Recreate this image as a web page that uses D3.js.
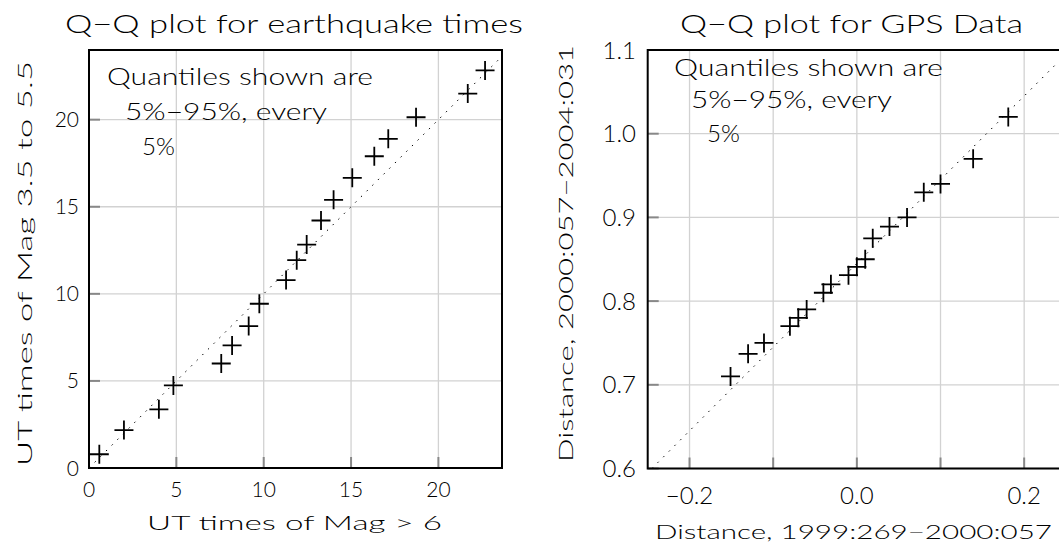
<!DOCTYPE html>
<html>
<head>
<meta charset="utf-8">
<script src="https://cdn.jsdelivr.net/npm/d3@7"></script>
<style>
  body { margin: 0; background: #fff; }
  svg { display: block; }
  text { font-family: Lato, "DejaVu Sans", sans-serif; font-weight: 300; fill: #000; }
</style>
</head>
<body>
<svg id="chart" width="1059" height="543"></svg>
<script>
// left panel: earthquake times (quantiles 5%..95%)
const quakeX = [0.59, 2.0, 4.0, 4.83, 7.57, 8.19, 9.14, 9.75, 11.28, 11.89, 12.46, 13.28, 14.0, 15.07, 16.33, 17.13, 18.72, 21.68, 22.67]
const quakeY = [0.79, 2.18, 3.37, 4.74, 6.0, 7.04, 8.15, 9.43, 10.79, 11.93, 12.83, 14.21, 15.4, 16.66, 17.9, 18.9, 20.14, 21.5, 22.83]
const quakeTicks = [0, 5, 10, 15, 20]

// right panel: GPS distances
const gpsX = [-0.151, -0.130, -0.111, -0.080, -0.070, -0.060, -0.040, -0.031, -0.010, 0.0, 0.010, 0.019, 0.039, 0.060, 0.080, 0.100, 0.139, 0.181]
const gpsY = [0.710, 0.737, 0.750, 0.770, 0.780, 0.790, 0.810, 0.820, 0.831, 0.841, 0.850, 0.875, 0.889, 0.900, 0.930, 0.940, 0.970, 1.020]
const gpsXTicks = [-0.2, -0.1, 0.0, 0.1, 0.2]
const gpsXLabelled = [-0.2, 0.0, 0.2]
const gpsYTicks = [0.6, 0.7, 0.8, 0.9, 1.0, 1.1]
const gpsRef = { intercept: 0.845, slope: 1 }

const noteLines = ['Quantiles shown are', '5%\u221295%, every', '5%']

const svg = d3.select('#chart')

function panel(o) {
  const g = svg.append('g')
  const x = d3.scaleLinear().domain(o.xDomain).range(o.xRange)
  const y = d3.scaleLinear().domain(o.yDomain).range(o.yRange)
  const [x0, x1] = o.xRange
  const [yb, yt] = o.yRange

  // grid
  g.selectAll('.gx').data(o.xTicks).enter().append('line')
    .attr('x1', d => x(d)).attr('x2', d => x(d)).attr('y1', yt).attr('y2', yb)
    .attr('stroke', '#d2d2d2').attr('stroke-width', 1.3)
  g.selectAll('.gy').data(o.yTicks).enter().append('line')
    .attr('x1', x0).attr('x2', x1).attr('y1', d => y(d)).attr('y2', d => y(d))
    .attr('stroke', '#d2d2d2').attr('stroke-width', 1.3)

  // inward tick marks
  g.selectAll('.tx').data(o.xTicks).enter().append('line')
    .attr('x1', d => x(d)).attr('x2', d => x(d)).attr('y1', yb).attr('y2', yb - 11)
    .attr('stroke', '#888').attr('stroke-width', 2)
  g.selectAll('.ty').data(o.yTicks).enter().append('line')
    .attr('x1', x0).attr('x2', x0 + 11).attr('y1', d => y(d)).attr('y2', d => y(d))
    .attr('stroke', '#888').attr('stroke-width', 2)

  // reference line, clipped to the y domain
  const r = o.ref
  let pts = o.xDomain.map(v => [v, r.intercept + r.slope * v])
  pts = pts.map(([a, b]) => {
    if (b < o.yDomain[0]) return [(o.yDomain[0] - r.intercept) / r.slope, o.yDomain[0]]
    if (b > o.yDomain[1]) return [(o.yDomain[1] - r.intercept) / r.slope, o.yDomain[1]]
    return [a, b]
  })
  g.append('path')
    .attr('d', d3.line().x(d => x(d[0])).y(d => y(d[1]))(pts))
    .attr('stroke', '#000').attr('stroke-width', 1).attr('stroke-dasharray', '1.5,6.5')
    .attr('fill', 'none')

  // frame
  g.append('rect')
    .attr('x', x0).attr('y', yt).attr('width', x1 - x0).attr('height', yb - yt)
    .attr('fill', 'none').attr('stroke', '#000').attr('stroke-width', 2)

  // crosses
  g.selectAll('.pt').data(o.xs.map((v, i) => [v, o.ys[i]])).enter().append('path')
    .attr('transform', d => `translate(${x(d[0])},${y(d[1])})`)
    .attr('d', 'M-9.5,0H9.5M0,-9.5V9.5')
    .attr('stroke', '#000').attr('stroke-width', 1.8)

  // tick labels
  g.selectAll('.lx').data(o.xLabels).enter().append('text')
    .attr('x', d => x(d)).attr('y', o.xLabelY)
    .attr('text-anchor', 'middle').attr('font-size', o.tickSize)
    .text(o.xFmt)
  g.selectAll('.ly').data(o.yTicks).enter().append('text')
    .attr('x', o.yLabelX).attr('y', d => y(d)).attr('dy', '0.36em')
    .attr('text-anchor', 'end').attr('font-size', o.tickSize)
    .text(o.yFmt)

  // titles
  g.append('text').attr('x', o.title.x).attr('y', o.title.y)
    .attr('font-size', 25).attr('textLength', o.title.len).attr('lengthAdjust', 'spacingAndGlyphs')
    .text(o.title.text)
  g.append('text').attr('x', o.xTitle.x).attr('y', o.xTitle.y)
    .attr('font-size', o.xTitle.size).attr('textLength', o.xTitle.len).attr('lengthAdjust', 'spacingAndGlyphs')
    .text(o.xTitle.text)
  g.append('text')
    .attr('transform', `translate(${o.yTitle.x},${o.yTitle.y}) rotate(-90)`)
    .attr('font-size', o.yTitle.size).attr('textLength', o.yTitle.len).attr('lengthAdjust', 'spacingAndGlyphs')
    .text(o.yTitle.text)

  // note
  g.selectAll('.note').data(noteLines).enter().append('text')
    .attr('x', (d, i) => o.note.x[i]).attr('y', (d, i) => o.note.y[i])
    .attr('font-size', 23).attr('textLength', (d, i) => o.note.len[i]).attr('lengthAdjust', 'spacingAndGlyphs')
    .text(d => d)
}

panel({
  xDomain: [0, 23.64], xRange: [89, 502],
  yDomain: [0, 24], yRange: [468, 50],
  xTicks: quakeTicks, yTicks: quakeTicks, xLabels: quakeTicks,
  xFmt: d => d, yFmt: d => d,
  xs: quakeX, ys: quakeY,
  ref: { intercept: 0, slope: 1 },
  tickSize: 21, xLabelY: 497, yLabelX: 79,
  title: { text: 'Q\u2212Q plot for earthquake times', x: 65, y: 33, len: 458 },
  xTitle: { text: 'UT times of Mag > 6', x: 147, y: 530, len: 295, size: 20 },
  yTitle: { text: 'UT times of Mag 3.5 to 5.5', x: 32, y: 466, len: 405, size: 20 },
  note: { x: [107, 125, 142], y: [85, 120, 155], len: [266, 202, 33] }
})

panel({
  xDomain: [-0.25, 0.25], xRange: [647.7, 1066],
  yDomain: [0.6, 1.1], yRange: [468.5, 50],
  xTicks: gpsXTicks, yTicks: gpsYTicks, xLabels: gpsXLabelled,
  xFmt: d => d3.format('.1f')(d).replace('-', '\u2212'), yFmt: d3.format('.1f'),
  xs: gpsX, ys: gpsY,
  ref: gpsRef,
  tickSize: 24, xLabelY: 504, yLabelX: 636,
  title: { text: 'Q\u2212Q plot for GPS Data', x: 680, y: 33, len: 343 },
  xTitle: { text: 'Distance, 1999:269\u22122000:057', x: 655, y: 539, len: 397, size: 20 },
  yTitle: { text: 'Distance, 2000:057\u22122004:031', x: 573, y: 462, len: 417, size: 20 },
  note: { x: [674, 691, 707], y: [76, 108, 142], len: [269, 201, 33] }
})
</script>
</body>
</html>
